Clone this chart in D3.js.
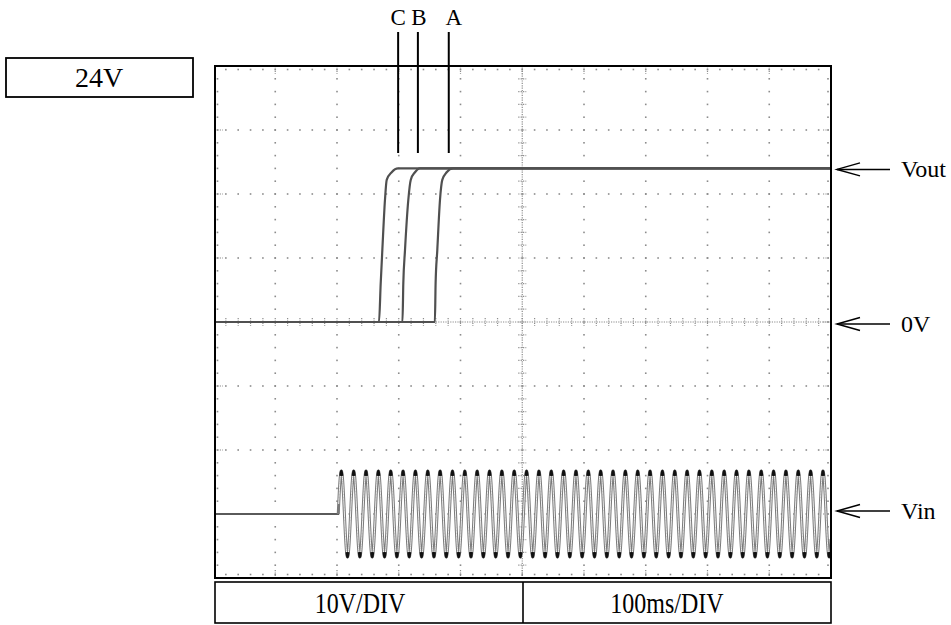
<!DOCTYPE html>
<html>
<head>
<meta charset="utf-8">
<script src="https://cdn.jsdelivr.net/npm/d3@7"></script>
<style>
  body { margin: 0; background: #fff; }
  svg { display: block; }
  text { font-family: "Liberation Serif", "Times New Roman", serif; fill: #000; }
</style>
</head>
<body>
<svg id="chart" width="951" height="625"></svg>
<script>
// Scope settings
const timeDivs = 10;          // horizontal divisions
const voltDivs = 8;           // vertical divisions
const msPerDiv = 100;
const voltsPerDiv = 10;
const scaleLabels = ["10V/DIV", "100ms/DIV"];
const supplyLabel = "24V";

// Vout start-up traces: sample times (ms) for curves A, B, C, sharing one voltage list (V)
const curveNames = ["A", "B", "C"];
const voutTimesA = [0, 358.5, 359.7, 362.4, 366.8, 370.5, 377.6, 387.9, 1000];
const voutTimesB = [0, 306.0, 307.4, 310.1, 315.5, 319.4, 326.3, 334.4, 1000];
const voutTimesC = [0, 268.0, 270.8, 273.4, 277.7, 280.5, 288.6, 298.8, 1000];
const voutVolts  = [0, 0, 6.1, 11.2, 19.1, 22.2, 23.4, 24, 24];

// Marker lines above the plot (ms), one per curve
const markerTimes = [381, 331, 299];   // A, B, C

// Vin: 50 Hz mains switched on at 202 ms, drawn 3 divisions below 0 V
const vinOnsetMs = 202;
const vinFreqHz = 50;
const vinAmpV = 6.7;
const vinOffsetV = -30;

// Right-hand trace labels
const traceLabels = ["Vout", "0V", "Vin"];
const traceLabelVolts = [24, 0, -30];

const svg = d3.select("#chart");

const plotLeft = 213.5, plotRight = 831, plotTop = 66, plotBottom = 578, frameLeft = 215;
const x = d3.scaleLinear().domain([0, timeDivs * msPerDiv]).range([plotLeft, plotRight]);
const vMax = voltDivs / 2 * voltsPerDiv;
const y = d3.scaleLinear().domain([-vMax, vMax]).range([plotBottom, plotTop]);

const tMax = timeDivs * msPerDiv;
const majorT = d3.range(0, tMax + 1, msPerDiv);
const minorT = d3.range(0, tMax + 1, msPerDiv / 5);
const majorV = d3.range(-vMax, vMax + 1, voltsPerDiv);
const minorV = d3.range(-vMax, vMax + 1, voltsPerDiv / 5);
const tMid = tMax / 2;
const innerT = arr => arr.filter(t => t > 0 && t < tMax);
const innerV = arr => arr.filter(v => v > -vMax && v < vMax);

svg.append("defs").append("clipPath").attr("id", "plotClip")
  .append("rect").attr("x", frameLeft).attr("y", plotTop)
  .attr("width", plotRight - frameLeft).attr("height", plotBottom - plotTop);

// ---- graticule ----
const grid = svg.append("g").attr("fill", "#8c8c8c");
const dot = (cx, cy) => grid.append("rect")
  .attr("x", cx - 0.8).attr("y", cy - 0.8).attr("width", 1.6).attr("height", 1.6);

// dotted division lines
innerT(majorT).filter(t => t !== tMid).forEach(t => innerV(minorV).forEach(v => dot(x(t), y(v))));
innerV(majorV).filter(v => v !== 0).forEach(v => innerT(minorT).forEach(t => dot(x(t), y(v))));
// minor marks along the frame
innerT(minorT).forEach(t => { dot(x(t), plotTop + 3.5); dot(x(t), plotBottom - 3.5); });
innerV(minorV).forEach(v => { dot(frameLeft + 2.5, y(v)); dot(plotRight - 3, y(v)); });

const gTicks = svg.append("g").attr("stroke", "#8c8c8c").attr("stroke-width", 1.2)
  .attr("stroke-dasharray", "1.2,1.2");
// major marks along the frame
innerT(majorT).forEach(t => {
  gTicks.append("line").attr("x1", x(t)).attr("x2", x(t)).attr("y1", plotTop).attr("y2", plotTop + 8);
  gTicks.append("line").attr("x1", x(t)).attr("x2", x(t)).attr("y1", plotBottom - 8).attr("y2", plotBottom);
});
innerV(majorV).forEach(v => {
  gTicks.append("line").attr("x1", frameLeft).attr("x2", frameLeft + 8).attr("y1", y(v)).attr("y2", y(v));
  gTicks.append("line").attr("x1", plotRight - 8).attr("x2", plotRight).attr("y1", y(v)).attr("y2", y(v));
});
// centre axes with cross ticks
gTicks.append("line").attr("x1", x(tMid)).attr("x2", x(tMid)).attr("y1", plotTop).attr("y2", plotBottom);
gTicks.append("line").attr("x1", frameLeft).attr("x2", plotRight).attr("y1", y(0)).attr("y2", y(0));
innerV(minorV).forEach(v => {
  gTicks.append("line").attr("x1", x(tMid) - 4).attr("x2", x(tMid) + 4).attr("y1", y(v)).attr("y2", y(v));
});
innerT(minorT).forEach(t => {
  gTicks.append("line").attr("x1", x(t)).attr("x2", x(t)).attr("y1", y(0) - 4).attr("y2", y(0) + 4);
});

// ---- traces ----
const traces = svg.append("g").attr("clip-path", "url(#plotClip)");

// Vin
const vinSamples = d3.range(0, tMax + 0.01, 0.25).map(t => {
  const s = t < vinOnsetMs ? 0 : Math.sin(2 * Math.PI * vinFreqHz * (t - vinOnsetMs) / 1000);
  return { t, s, v: vinOffsetV + vinAmpV * s };
});
const vinPath = (defined, stroke, width) => traces.append("path").datum(vinSamples)
  .attr("d", d3.line().x(d => x(d.t)).y(d => y(d.v)).defined(defined))
  .attr("fill", "none").attr("stroke", stroke).attr("stroke-width", width);
vinPath(d => d.t <= vinOnsetMs + 0.5, "#5a5a5a", 2);          // idle line before switch-on
vinPath(d => d.t >= vinOnsetMs, "#7a7a7a", 3);                // outer trace
vinPath(d => d.t > vinOnsetMs + 0.5, "#fff", 0.9);            // hollow core of the trace
vinPath(d => d.t >= vinOnsetMs && Math.abs(d.s) > 0.86, "#111", 2.2); // dark crests

// Vout A, B, C
const voutSeries = [voutTimesA, voutTimesB, voutTimesC].map(ts => ts.map((t, i) => ({ t, v: voutVolts[i] })));
const voutLine = d3.line().x(d => x(d.t)).y(d => y(d.v)).curve(d3.curveMonotoneX);
traces.selectAll("path.vout").data(voutSeries).join("path").attr("class", "vout")
  .attr("d", voutLine).attr("fill", "none").attr("stroke", "#505050").attr("stroke-width", 2.2);

// ---- frame ----
svg.append("rect").attr("x", frameLeft).attr("y", plotTop)
  .attr("width", plotRight - frameLeft).attr("height", plotBottom - plotTop)
  .attr("fill", "none").attr("stroke", "#000").attr("stroke-width", 2);

// scale boxes under the plot
const boxTop = 582, boxBottom = 623, boxMid = 523;
svg.append("rect").attr("x", frameLeft).attr("y", boxTop)
  .attr("width", plotRight - frameLeft).attr("height", boxBottom - boxTop)
  .attr("fill", "none").attr("stroke", "#000").attr("stroke-width", 1.6);
svg.append("line").attr("x1", boxMid).attr("x2", boxMid).attr("y1", boxTop).attr("y2", boxBottom)
  .attr("stroke", "#000").attr("stroke-width", 1.6);
[[360, scaleLabels[0]], [667, scaleLabels[1]]].forEach(([cx, label]) => {
  svg.append("text").attr("transform", `translate(${cx},612.5) scale(1,1.2)`)
    .attr("text-anchor", "middle").attr("font-size", 24).text(label);
});

// supply voltage box
svg.append("rect").attr("x", 6).attr("y", 58).attr("width", 187).attr("height", 39)
  .attr("fill", "none").attr("stroke", "#000").attr("stroke-width", 1.8);
svg.append("text").attr("x", 99).attr("y", 87).attr("text-anchor", "middle")
  .attr("font-size", 28).text(supplyLabel);

// curve markers
const letterNudge = [5, 1, 0];
markerTimes.forEach((t, i) => {
  svg.append("line").attr("x1", x(t)).attr("x2", x(t)).attr("y1", 32).attr("y2", 153)
    .attr("stroke", "#000").attr("stroke-width", 2);
  svg.append("text").attr("x", x(t) + letterNudge[i]).attr("y", 25).attr("text-anchor", "middle")
    .attr("font-size", 23).text(curveNames[i]);
});

// trace labels with arrows
const labelNudge = [1, 2, -3];
traceLabels.forEach((name, i) => {
  const ay = y(traceLabelVolts[i]) + labelNudge[i];
  const g = svg.append("g").attr("stroke", "#000").attr("stroke-width", 1.5).attr("fill", "none");
  g.append("line").attr("x1", 837).attr("x2", 890).attr("y1", ay).attr("y2", ay);
  g.append("polyline").attr("points", `860,${ay - 6.5} 837,${ay} 860,${ay + 6.5}`);
  svg.append("text").attr("x", 901).attr("y", ay + 7.5).attr("font-size", 24).text(name);
});
</script>
</body>
</html>
